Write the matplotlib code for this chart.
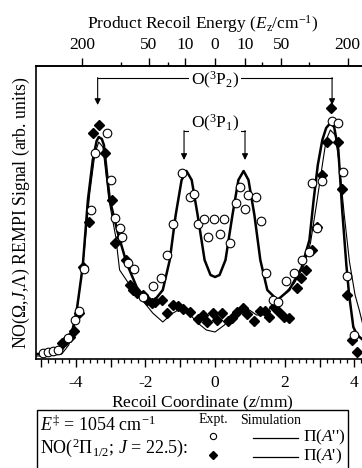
import numpy as np
import matplotlib
matplotlib.use("Agg")
import matplotlib.pyplot as plt
from matplotlib.lines import Line2D
from matplotlib.patches import Rectangle
from matplotlib.ticker import MultipleLocator

plt.rcParams['font.family'] = ['Liberation Serif', 'DejaVu Serif']
plt.rcParams['mathtext.fontset'] = 'custom'
plt.rcParams['mathtext.rm'] = 'Liberation Serif'
plt.rcParams['mathtext.it'] = 'Liberation Serif:italic'
plt.rcParams['mathtext.bf'] = 'Liberation Serif:bold'
plt.rcParams['axes.unicode_minus'] = False

# ---------------- data (z in mm, signal in arb. units) ----------------
# Simulation Pi(A'') (thick line)
sim_app_z = [-5.14, -4.91, -4.60, -4.40, -4.26, -4.11, -3.97, -3.80, -3.65, -3.51,
             -3.40, -3.34, -3.25, -3.19, -3.02, -2.79, -2.54, -2.25, -1.96, -1.73,
             -1.50, -1.30, -1.13, -0.96, -0.82, -0.67, -0.50, -0.30, -0.13, 0.00,
             0.13, 0.30, 0.50, 0.67, 0.82, 0.96, 1.13, 1.30, 1.50, 1.79,
             2.13, 2.48, 2.71, 2.83, 2.95, 3.08, 3.19, 3.31, 3.42, 3.54,
             3.65, 3.77, 3.85, 3.97, 4.08, 4.25, 4.42]
sim_app_s = [5, 5, 6, 9, 16, 26, 49, 92, 159, 199,
             218, 222, 220, 214, 159, 126, 96, 72, 59, 59,
             69, 99, 144, 179, 188, 179, 144, 99, 84, 82,
             84, 99, 144, 179, 188, 179, 144, 99, 69, 59,
             69, 91, 119, 159, 194, 219, 231, 236, 232, 209,
             149, 94, 64, 32, 24, 19, 17]

# Simulation Pi(A') (thin line)
sim_ap_z = [-5.14, -4.91, -4.60, -4.40, -4.20, -4.05, -3.92, -3.75, -3.60, -3.45,
            -3.34, -3.22, -3.05, -2.85, -2.74, -2.45, -2.16, -1.79, -1.50, -1.25,
            -0.96, -0.75, -0.53, -0.25, 0.00, 0.27, 0.56, 0.85, 1.03, 1.19,
            1.40, 1.62, 1.90, 2.28, 2.54, 2.74, 2.91, 3.08, 3.19, 3.31,
            3.45, 3.57, 3.71, 3.86, 4.02, 4.14, 4.26, 4.42]
sim_ap_s = [3, 3, 4, 5, 14, 30, 60, 110, 165, 205,
            217, 212, 160, 122, 89, 74, 62, 46, 37, 45,
            51, 46, 37, 29, 27, 34, 46, 52, 48, 44,
            44, 52, 62, 76, 92, 116, 154, 194, 219, 229,
            224, 194, 144, 97, 64, 49, 32, 22]

# Experiment Pi(A'') (open circles)
expt_app_z = [-4.94, -4.80, -4.66, -4.51, -4.23, -4.03, -3.91, -3.77, -3.57, -3.45,
              -3.11, -2.99, -2.88, -2.74, -2.68, -2.51, -2.34, -2.08, -1.79, -1.56,
              -1.39, -1.22, -0.96, -0.73, -0.59, -0.50, -0.33, -0.19, -0.04, 0.13,
              0.27, 0.42, 0.59, 0.73, 0.85, 0.96, 1.19, 1.33, 1.45, 1.65,
              1.82, 2.05, 2.28, 2.51, 2.71, 2.79, 2.94, 3.08, 3.37, 3.54,
              3.68, 3.80, 4.00]
expt_app_s = [6, 7, 8, 9, 21, 39, 48, 90, 149, 206,
              226, 179, 141, 131, 122, 96, 90, 62, 73, 81,
              104, 135, 186, 162, 165, 135, 140, 122, 140, 125,
              140, 116, 156, 172, 150, 164, 162, 138, 86, 59,
              57, 78, 86, 99, 107, 176, 131, 178, 238, 236,
              187, 83, 24]

# Experiment Pi(A') (filled diamonds)
expt_ap_z = [-4.40, -4.31, -4.17, -4.05, -3.91, -3.80, -3.62, -3.51, -3.34, -3.17,
             -2.97, -2.88, -2.71, -2.56, -2.45, -2.36, -2.25, -2.08, -1.96, -1.82,
             -1.73, -1.53, -1.39, -1.22, -1.07, -0.93, -0.73, -0.50, -0.36, -0.24,
             -0.07, 0.07, 0.21, 0.36, 0.50, 0.64, 0.79, 0.93, 1.13, 1.28,
             1.42, 1.56, 1.68, 1.85, 1.99, 2.13, 2.34, 2.48, 2.62, 2.77,
             2.94, 3.08, 3.22, 3.34, 3.54, 3.65, 3.80, 3.94, 4.08]
expt_ap_s = [16, 18, 22, 28, 46, 92, 137, 226, 234, 206,
             159, 116, 122, 99, 74, 69, 66, 64, 59, 56,
             57, 59, 46, 54, 53, 50, 47, 40, 44, 37,
             46, 39, 46, 38, 41, 47, 51, 45, 38, 48,
             48, 42, 52, 47, 42, 41, 71, 81, 89, 109,
             132, 184, 217, 251, 217, 170, 64, 19, 7]

# Axis ticks
z_major_ticks = [-5, -4, -3, -2, -1, 0, 1, 2, 3, 4]
z_major_labels = ['', '-4', '', '-2', '', '0', '', '2', '', '4']
energy_major = [-200, -50, -10, 0, 10, 50, 200]      # sign = side of zero
energy_major_labels = ['200', '50', '10', '0', '10', '50', '200']
energy_minor = [-100, -25, 25, 100]
E_PER_MM2 = 13.8   # cm^-1 per mm^2 (E = k z^2)


def e_to_z(e):
    e = np.asarray(e, dtype=float)
    return np.sign(e) * np.sqrt(np.abs(e) / E_PER_MM2)


# ---------------- figure ----------------
W, H = 362, 468
fig = plt.figure(figsize=(W / 100, H / 100), dpi=100)


def fx(px):
    return px / W


def fy(py):
    return 1 - py / H


ax_left, ax_right, ax_top, ax_bot = 36, 369, 66, 359
ax = fig.add_axes([fx(ax_left), fy(ax_bot), (ax_right - ax_left) / W, (ax_bot - ax_top) / H])
ax.set_xlim(-5.14, 4.42)
ax.set_ylim(0, 293)

ax.plot(sim_ap_z, sim_ap_s, color='k', lw=0.8, zorder=2)
ax.plot(sim_app_z, sim_app_s, color='k', lw=1.8, zorder=2)
ax.plot(expt_ap_z, expt_ap_s, ls='none', marker='D', ms=5.0, mfc='k', mec='k', zorder=3)
ax.plot(expt_app_z, expt_app_s, ls='none', marker='o', ms=6.2, mfc='white', mec='k', mew=0.8, zorder=4)

for sp in ['left', 'top', 'bottom']:
    ax.spines[sp].set_linewidth(1.2)
ax.spines['right'].set_visible(False)

ax.set_yticks([])
ax.set_xticks(z_major_ticks, labels=z_major_labels)
ax.xaxis.set_minor_locator(MultipleLocator(0.2))
ax.tick_params(axis='x', which='major', direction='out', length=5.5, width=1.0,
               labelsize=12.5, pad=6)
ax.tick_params(axis='x', which='minor', direction='out', length=3, width=0.9)

ax.set_xlabel(r"Recoil Coordinate ($z$/mm)", fontsize=12.5, labelpad=2)
ax.set_ylabel(r"NO($\Omega$,$J$,$\mathit{\Lambda}$) REMPI Signal (arb. units)", fontsize=12.8, labelpad=3)

secax = ax.secondary_xaxis('top')
secax.set_xticks(e_to_z(energy_major), labels=energy_major_labels)
secax.set_xticks(e_to_z(energy_minor), minor=True)
secax.tick_params(axis='x', which='major', direction='out', length=6, width=1.0, labelsize=12.5, pad=3)
secax.tick_params(axis='x', which='minor', direction='out', length=3, width=1.0)
secax.spines['top'].set_linewidth(1.2)
secax.set_xlabel(r"Product Recoil Energy ($E_{\rm z}$/cm$^{-1}$)", fontsize=12.5, labelpad=6)

# annotations O(3P2)
ax.plot([-3.37, 3.36], [281, 281], color='k', lw=0.8, zorder=1)
ax.text(0, 279, r"O($^3$P$_2$)", ha='center', va='center', fontsize=12.5,
        bbox=dict(fc='white', ec='none', pad=1.5), zorder=5)
for zz in (-3.37, 3.36):
    ax.annotate('', xy=(zz, 254), xytext=(zz, 281.4),
                arrowprops=dict(arrowstyle='-|>', mutation_scale=9, lw=0.8, color='k',
                                shrinkA=0, shrinkB=0))
# annotations O(3P1)
ax.plot([-0.89, 0.86], [228, 228], color='k', lw=0.8, zorder=1)
ax.text(0, 236, r"O($^3$P$_1$)", ha='center', va='center', fontsize=12.5,
        bbox=dict(fc='white', ec='none', pad=1.5), zorder=5)
for zz in (-0.89, 0.86):
    ax.annotate('', xy=(zz, 199), xytext=(zz, 228.4),
                arrowprops=dict(arrowstyle='-|>', mutation_scale=9, lw=0.8, color='k',
                                shrinkA=0, shrinkB=0))

# ---------------- legend box ----------------
box = Rectangle((fx(37), fy(475)), fx(348) - fx(37), fy(410) - fy(475),
                transform=fig.transFigure, fill=False, ec='k', lw=1.0)
fig.add_artist(box)
fig.text(fx(40), fy(425), r"$E^{\ddagger}$ = 1054 cm$^{-1}$", ha='left', va='center', fontsize=13)
fig.text(fx(40), fy(448), r"NO($^2\Pi_{1/2}$; $J$ = 22.5):", ha='left', va='center', fontsize=13)
fig.text(fx(213), fy(419), "Expt.", ha='center', va='center', fontsize=10)
fig.text(fx(240), fy(421), "Simulation", ha='left', va='center', fontsize=10)
fig.add_artist(Line2D([fx(213)], [fy(436)], marker='o', ms=4.5, mfc='white', mec='k', mew=0.8,
                      transform=fig.transFigure))
fig.add_artist(Line2D([fx(213)], [fy(455)], marker='D', ms=4.0, mfc='k', mec='k',
                      transform=fig.transFigure))
fig.add_artist(Line2D([fx(253), fx(298)], [fy(438), fy(438)], color='k', lw=0.9,
                      transform=fig.transFigure))
fig.add_artist(Line2D([fx(253), fx(298)], [fy(457), fy(457)], color='k', lw=0.9,
                      transform=fig.transFigure))
fig.text(fx(303), fy(437), r"$\Pi$($A$'')", ha='left', va='center', fontsize=12.5)
fig.text(fx(303), fy(456), r"$\Pi$($A$')", ha='left', va='center', fontsize=12.5)

fig.savefig("out.png", dpi=100)
